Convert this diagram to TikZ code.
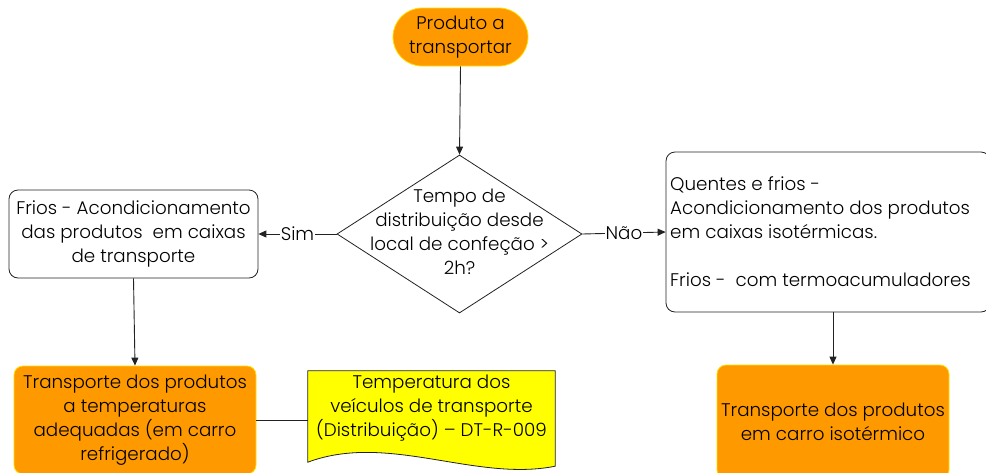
\documentclass[tikz,border=0pt]{standalone}
\usepackage{fontspec}
\setmainfont{Poppins}[UprightFont=* Light]
\usetikzlibrary{shapes.geometric,arrows.meta}
\definecolor{orng}{HTML}{FF9900}
\definecolor{orngb}{HTML}{FFDD00}
\definecolor{ylw}{HTML}{FFFF00}
\definecolor{ln}{HTML}{222222}
\begin{document}
\begin{tikzpicture}[x=1pt,y=-1pt,
  every node/.style={font=\fontsize{18.3}{24}\selectfont, text=black, inner sep=0pt},
  conn/.style={draw=ln, line width=0.9pt},
  arr/.style={conn, -{Triangle[length=8pt,width=7pt]}},
  orangebox/.style={draw=orngb, fill=orng, line width=0.8pt, rounded corners=9pt, align=center},
  whitebox/.style={draw=ln, fill=white, line width=0.8pt, rounded corners=9pt},
  lbl/.style={fill=white, inner xsep=1pt}]
\useasboundingbox (0,0) rectangle (986,472);
\node[orangebox, rounded corners=29pt, minimum width=135pt, minimum height=58pt] (start) at (460.5,37) {Produto a\\transportar};
\node[draw=ln, line width=0.8pt, fill=white, diamond, minimum width=245pt, minimum height=158pt] (dec) at (459.5,234) {};
\node[align=center] (dtext) at (459.5,232) {Tempo de\\distribuição desde\\local de confeção >\\2h?};
\node[whitebox, align=center, minimum width=249pt, minimum height=88pt] (sim) at (133.5,234) {Frios - Acondicionamento\\das produtos \ em caixas\\de transporte};
\node[whitebox, minimum width=324pt, minimum height=160pt] (nao) at (828,232) {};
\node[anchor=west, align=left] (naotext) at (670,232) {Quentes e frios -\\Acondicionamento dos produtos\\em caixas isotérmicas.\\[24pt]Frios - \ com termoacumuladores};
\node[orangebox, minimum width=242pt, minimum height=108pt] (t1) at (135,420) {Transporte dos produtos\\a temperaturas\\adequadas (em carro\\refrigerado)};
\node[orangebox, minimum width=232pt, minimum height=114pt] (t2) at (833,422) {Transporte dos produtos\\em carro isotérmico};
\node[minimum width=247pt, minimum height=91pt] (doc) at (431.5,416.5) {};
\draw[draw=ln, fill=ylw, line width=0.8pt] (doc.north west) -- (doc.north east) -- ([yshift=-4pt]doc.south east)
  .. controls ([xshift=-80pt,yshift=-20pt]doc.south east) and ([xshift=80pt,yshift=30pt]doc.south west) .. ([yshift=0pt]doc.south west) -- cycle;
\node[align=center] (doctext) at (431.5,408) {Temperatura dos\\veículos de transporte\\(Distribuição) – DT-R-009};
\draw[arr] (start.south) -- (dec.north);
\draw[arr] (dec.west) -- node[lbl] {Sim} (sim.east);
\draw[arr] (dec.east) -- node[lbl] {Não} (nao.west);
\draw[arr] (sim.south) -- (t1.north);
\draw[arr] (t2.north |- nao.south) -- (t2.north);
\draw[conn] (t1.east) -- (t1.east -| doc.west);
\end{tikzpicture}
\end{document}
